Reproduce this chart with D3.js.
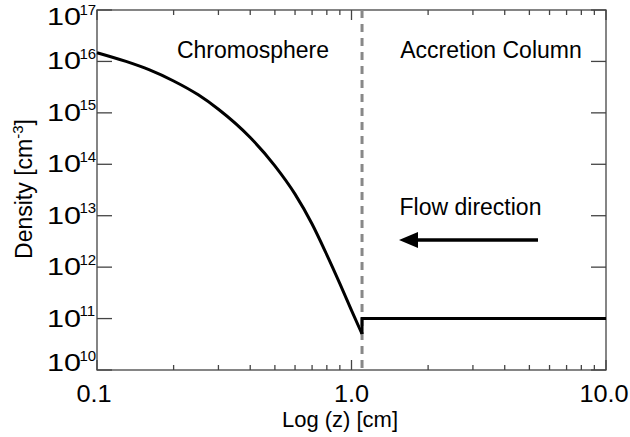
<!DOCTYPE html>
<html><head><meta charset="utf-8">
<script src="https://cdn.jsdelivr.net/npm/d3@7"></script>
<style>body{margin:0;background:#fff}svg{display:block;font-family:"Liberation Sans",Arial,sans-serif}</style>
</head><body><svg id="c" width="630" height="437"></svg>
<script>
// data
const chromoZ = [0.1, 0.13, 0.16, 0.2, 0.25, 0.3, 0.4, 0.5, 0.6, 0.7, 0.8, 0.9, 1.0, 1.1];
const chromoLogN = [16.17, 16.0, 15.84, 15.62, 15.35, 15.07, 14.52, 13.97, 13.42, 12.84, 12.24, 11.68, 11.16, 10.70];
const columnZ = [1.1, 1.1, 10];
const columnLogN = [10.70, 11, 11];
const boundaryZ = 1.1;
const yTickExps = [10, 11, 12, 13, 14, 15, 16, 17];
const xTickLabels = ["0.1", "1.0", "10.0"];
const xTickValues = [0.1, 1, 10];

const svg = d3.select("#c");
const L = 97, R = 606, T = 10, B = 370;
const x = d3.scaleLog().domain([0.1, 10]).range([L, R]);
const y = d3.scaleLog().domain([1e10, 1e17]).range([B, T]);
const axisColor = "#444";

// frame
svg.append("rect").attr("x", L).attr("y", T).attr("width", R - L).attr("height", B - T)
  .attr("fill", "none").attr("stroke", axisColor).attr("stroke-width", 1.3);

// ticks
const minor = [];
for (let d = 0.1; d < 10; d *= 10) for (let k = 2; k <= 9; k++) minor.push(d * k);
const g = svg.append("g").attr("stroke", axisColor).attr("stroke-width", 1.3);
minor.forEach(v => {
  g.append("line").attr("x1", x(v)).attr("x2", x(v)).attr("y1", B).attr("y2", B - 5);
  g.append("line").attr("x1", x(v)).attr("x2", x(v)).attr("y1", T).attr("y2", T + 5);
});
xTickValues.forEach(v => {
  g.append("line").attr("x1", x(v)).attr("x2", x(v)).attr("y1", B).attr("y2", B - 10);
  g.append("line").attr("x1", x(v)).attr("x2", x(v)).attr("y1", T).attr("y2", T + 10);
});
yTickExps.forEach(e => {
  const yy = y(Math.pow(10, e));
  g.append("line").attr("x1", L).attr("x2", L + 15).attr("y1", yy).attr("y2", yy);
  g.append("line").attr("x1", R).attr("x2", R - 15).attr("y1", yy).attr("y2", yy);
});

// y tick labels
yTickExps.forEach(e => {
  const yy = y(Math.pow(10, e));
  let base = yy + 8;
  if (e === 17) base = yy + 15;
  if (e === 10) base = yy + 1;
  svg.append("text").attr("transform", `translate(81,${base}) scale(1.33,1)`)
    .attr("text-anchor", "end").attr("font-size", 23).attr("fill", "#000").text("10");
  svg.append("text").attr("x", 79.5).attr("y", base - 10.5)
    .attr("font-size", 15).attr("fill", "#000").text(String(e));
});
// x tick labels
const xLabelShift = [-3, 0, -2];
xTickValues.forEach((v, i) => {
  svg.append("text").attr("transform", `translate(${x(v) + xLabelShift[i]},402) scale(1.1,1)`)
    .attr("text-anchor", "middle").attr("font-size", 23).attr("fill", "#000").text(xTickLabels[i]);
});

// axis titles
svg.append("text").attr("x", 340).attr("y", 427).attr("text-anchor", "middle")
  .attr("font-size", 22).text("Log (z) [cm]");
const yl = svg.append("text").attr("transform", "translate(32,189) rotate(-90)")
  .attr("text-anchor", "middle").attr("font-size", 23);
yl.append("tspan").text("Density [cm");
yl.append("tspan").attr("dy", -9).attr("font-size", 15).text("-3");
yl.append("tspan").attr("dy", 9).text("]");

// boundary dashed line
svg.append("line").attr("x1", x(boundaryZ)).attr("x2", x(boundaryZ)).attr("y1", T).attr("y2", B)
  .attr("stroke", "#888").attr("stroke-width", 3).attr("stroke-dasharray", "8,6");

// curves
const line = d3.line().x(d => x(d[0])).y(d => y(Math.pow(10, d[1])));
svg.append("path").datum(chromoZ.map((z, i) => [z, chromoLogN[i]]))
  .attr("d", line.curve(d3.curveMonotoneX)).attr("fill", "none").attr("stroke", "#000").attr("stroke-width", 3);
svg.append("path").datum(columnZ.map((z, i) => [z, columnLogN[i]]))
  .attr("d", d3.line().x(d => x(d[0])).y(d => y(Math.pow(10, d[1])))).attr("fill", "none")
  .attr("stroke", "#000").attr("stroke-width", 3);

// labels
svg.append("text").attr("x", 253).attr("y", 58).attr("text-anchor", "middle").attr("font-size", 23).text("Chromosphere");
svg.append("text").attr("x", 491).attr("y", 58).attr("text-anchor", "middle").attr("font-size", 23).text("Accretion Column");
svg.append("text").attr("x", 470.5).attr("y", 215).attr("text-anchor", "middle").attr("font-size", 23).text("Flow direction");

// arrow
svg.append("line").attr("x1", 538).attr("x2", 412).attr("y1", 240).attr("y2", 240)
  .attr("stroke", "#000").attr("stroke-width", 3.5);
svg.append("path").attr("d", "M399,240 L418,232 L418,248 Z").attr("fill", "#000");
</script></body></html>
